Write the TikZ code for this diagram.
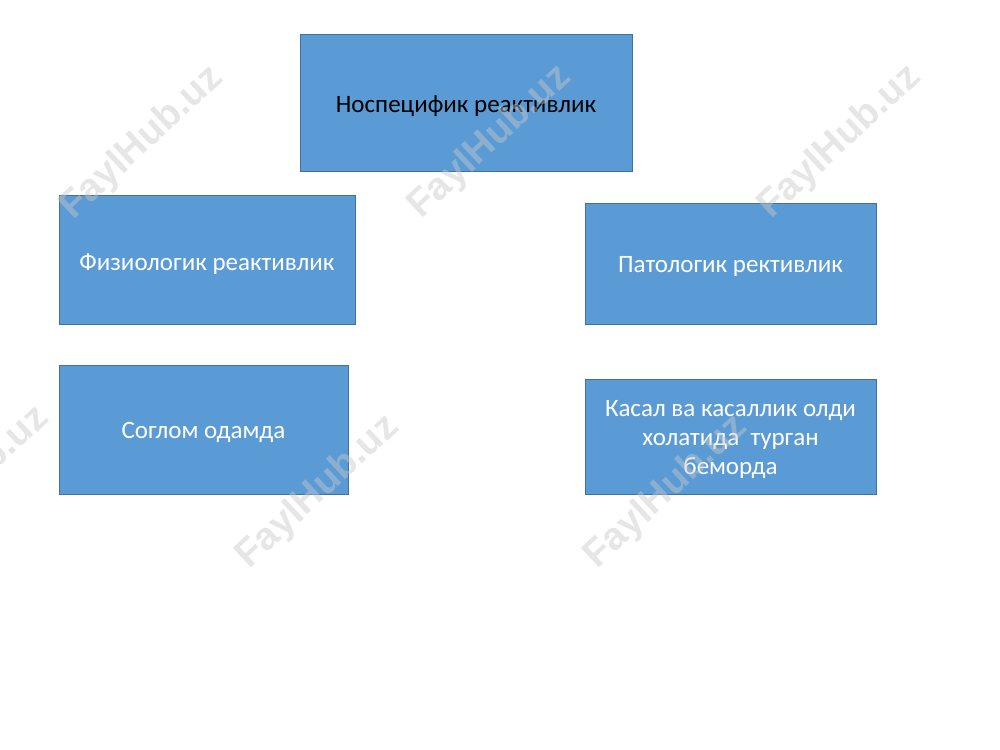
\documentclass[tikz,border=0pt]{standalone}
\usepackage{fontspec}
\setmainfont{Carlito}
\newfontfamily\markfont{Liberation Sans}
\usepackage{tikz}

\definecolor{boxfill}{HTML}{5B9BD5}
\definecolor{boxline}{HTML}{41719C}
\definecolor{markgray}{HTML}{C8C8C8}

\begin{document}
\begin{tikzpicture}[x=0.75pt,y=-0.75pt]
\useasboundingbox (0,0) rectangle (1000,750);
\newcommand{\fsize}{\fontsize{18.75}{21.75}\selectfont}
\begin{scope}[shape=rectangle,inner sep=0pt]
\tikzstyle{every node}=[draw=boxline,fill=boxfill,line width=0.75pt,align=center,font=\fsize,text=white]
\node[minimum width=249pt,minimum height=102.75pt] (nospec) at (466,102.5) {};
\node[minimum width=222pt,minimum height=96.75pt] (fiziol) at (207,259.5) {};
\node[minimum width=218.25pt,minimum height=90.75pt] (patol) at (730.5,263.5) {};
\node[minimum width=216.75pt,minimum height=96.75pt] (soglom) at (203.5,429.5) {};
\node[minimum width=218.25pt,minimum height=86.25pt] (kasal) at (730.5,436.5) {};
\tikzstyle{every node}=[align=center,font=\fsize,text=white]
\node[text=black] (nospec_t) at (466,106) {Носпецифик реактивлик};
\node (fiziol_t) at (207,264) {Физиологик реактивлик};
\node (patol_t) at (730.5,266) {Патологик рективлик};
\node (soglom_t) at (203.5,432) {Соглом одамда};
\node (kasal_t) at (730.5,440) {Касал ва касаллик олди\\холатида\ \ турган\\беморда};
\end{scope}
% watermark
\begin{scope}[opacity=0.45]
\tikzstyle{every node}=[text=markgray,rotate=43,font=\markfont\bfseries\fontsize{29}{29}\selectfont]
\node (mark_a) at (142,143) {FaylHub.uz};
\node (mark_b) at (490,142) {FaylHub.uz};
\node (mark_c) at (840,142) {FaylHub.uz};
\node (mark_d) at (-32,483) {FaylHub.uz};
\node (mark_e) at (318,492) {FaylHub.uz};
\node (mark_f) at (666,492) {FaylHub.uz};
\end{scope}
\end{tikzpicture}
\end{document}
